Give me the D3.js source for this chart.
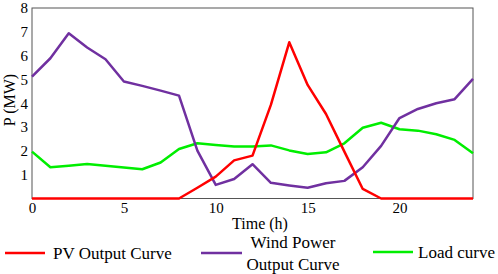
<!DOCTYPE html>
<html><head><meta charset="utf-8">
<script src="https://cdn.jsdelivr.net/npm/d3@7"></script>
<style>body{margin:0;background:#fff}svg{display:block}</style>
</head><body>
<script>
const hours = d3.range(0, 25);
const pvOutput = [0,0,0,0,0,0,0,0,0,0.45,0.92,1.60,1.80,3.93,6.56,4.77,3.55,1.97,0.40,0,0,0,0,0,0];
const windOutput = [5.12,5.89,6.94,6.34,5.85,4.91,4.73,4.53,4.32,2.01,0.57,0.82,1.44,0.66,0.55,0.45,0.64,0.74,1.31,2.21,3.38,3.76,4.00,4.17,5.02];
const loadCurve = [1.97,1.31,1.38,1.45,1.38,1.30,1.23,1.51,2.08,2.32,2.25,2.18,2.18,2.23,2.02,1.87,1.94,2.32,2.97,3.18,2.91,2.85,2.70,2.46,1.90];
const xTicks = [0,5,10,15,20];
const yTicks = [1,2,3,4,5,6,7,8];
const seriesNames = ["PV Output Curve","Wind Power Output Curve","Load curve"];

const FONT = "'Times New Roman','Liberation Serif','DejaVu Serif',serif";
const W = 498, H = 274;
const svg = d3.select("body").append("svg").attr("width", W).attr("height", H)
  .style("font-family", FONT);
const x = d3.scaleLinear().domain([0,24]).range([32,473]);
const y = d3.scaleLinear().domain([0,8]).range([198.5,8]);

svg.append("rect").attr("x",32).attr("y",8).attr("width",441).attr("height",190.5)
  .attr("fill","none").attr("stroke","#555").attr("stroke-width",1);

const line = d3.line().x((d,i)=>x(hours[i])).y(d=>y(d));
const series = [
  {data: pvOutput, color:"#ff0000"},
  {data: windOutput, color:"#7030a0"},
  {data: loadCurve, color:"#00ee00"}
];
[2,1,0].forEach(k=>{
  svg.append("path").datum(series[k].data).attr("d",line)
    .attr("fill","none").attr("stroke",series[k].color).attr("stroke-width",2.5)
    .attr("stroke-linejoin","round");
});

const xAxis = d3.axisBottom(x).tickValues(xTicks).tickSize(0).tickPadding(4);
const gx = svg.append("g").attr("transform","translate(0,198.5)").call(xAxis);
gx.attr("font-family", null).attr("font-size", null);
gx.select(".domain").remove();
gx.selectAll("text").style("font-family", FONT).style("font-size","15px").style("fill","#000");

const yAxis = d3.axisLeft(y).tickValues(yTicks).tickSize(0).tickPadding(4);
const gy = svg.append("g").attr("transform","translate(32,0)").call(yAxis);
gy.attr("font-family", null).attr("font-size", null);
gy.select(".domain").remove();
gy.selectAll("text").style("font-family", FONT).style("font-size","15px").style("fill","#000");

svg.append("text").attr("x",260).attr("y",229).attr("text-anchor","middle")
  .style("font-size","16px").text("Time (h)");
svg.append("text").attr("transform","translate(15,100) rotate(-90)").attr("text-anchor","middle")
  .style("font-size","16px").text("P (MW)");

const leg = svg.append("g");
leg.append("line").attr("x1",5).attr("x2",45).attr("y1",253).attr("y2",253).attr("stroke",series[0].color).attr("stroke-width",2.5);
leg.append("text").attr("x",53).attr("y",259).style("font-size","17px").text(seriesNames[0]);
leg.append("line").attr("x1",201).attr("x2",242).attr("y1",253).attr("y2",253).attr("stroke",series[1].color).attr("stroke-width",2.5);
leg.append("text").attr("x",293).attr("y",248).attr("text-anchor","middle").style("font-size","17px").text("Wind Power");
leg.append("text").attr("x",293).attr("y",270).attr("text-anchor","middle").style("font-size","17px").text("Output Curve");
leg.append("line").attr("x1",373).attr("x2",413).attr("y1",252).attr("y2",252).attr("stroke",series[2].color).attr("stroke-width",2.5);
leg.append("text").attr("x",418).attr("y",258).style("font-size","17px").text(seriesNames[2]);
</script>
</body></html>
